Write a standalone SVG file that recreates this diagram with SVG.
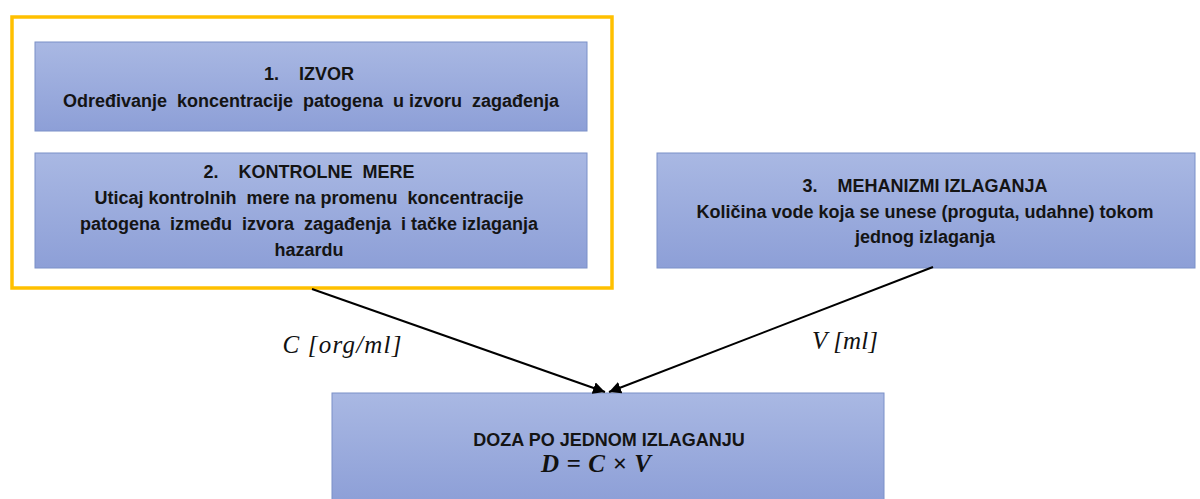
<svg xmlns="http://www.w3.org/2000/svg" width="1200" height="499" viewBox="0 0 1200 499">
<style>
.box{fill:url(#g);stroke:#7B90C8;stroke-width:1}
.t{font-family:"Liberation Sans",Arial,sans-serif;font-weight:bold;font-size:18px;fill:#141414;text-anchor:middle;white-space:pre}
.m{font-family:"Liberation Serif","Times New Roman",serif;font-style:italic;font-size:25px;fill:#111;text-anchor:middle;white-space:pre}
.c{stroke:#000;stroke-width:2;fill:none;marker-end:url(#ah)}
</style>
<defs>
<linearGradient id="g" x1="0" y1="0" x2="0" y2="1">
<stop offset="0" stop-color="#A9B8E3"/>
<stop offset="1" stop-color="#8D9FD7"/>
</linearGradient>
<marker id="ah" viewBox="0 0 10 10" refX="10" refY="5" markerWidth="6" markerHeight="6" orient="auto" markerUnits="strokeWidth">
<path d="M0,0 L10,5 L0,10 z" fill="#000"/>
</marker>
</defs>
<rect x="0" y="0" width="1200" height="499" fill="#fff"/>
<g id="group1">
<rect x="12" y="17" width="600" height="271" fill="none" stroke="#FFC000" stroke-width="3.5"/>
</g>
<g id="node1">
<rect class="box" x="35" y="42" width="552" height="89"/>
<text class="t" x="309" y="80">1.    IZVOR</text>
<text class="t" x="311" y="107">Određivanje  koncentracije  patogena  u izvoru  zagađenja</text>
</g>
<g id="node2">
<rect class="box" x="35" y="153" width="552" height="115"/>
<text class="t" x="309" y="178">2.    KONTROLNE  MERE</text>
<text class="t" x="309" y="204">Uticaj kontrolnih  mere na promenu  koncentracije</text>
<text class="t" x="309" y="230">patogena  između  izvora  zagađenja  i tačke izlaganja</text>
<text class="t" x="309" y="256">hazardu</text>
</g>
<g id="node3">
<rect class="box" x="657" y="153" width="538" height="115"/>
<text class="t" x="925" y="192">3.    MEHANIZMI IZLAGANJA</text>
<text class="t" x="925" y="218">Količina vode koja se unese (proguta, udahne) tokom</text>
<text class="t" x="925" y="243">jednog izlaganja</text>
</g>
<g id="node4">
<rect class="box" x="332" y="393" width="552" height="110"/>
<text class="t" x="609" y="446">DOZA PO JEDNOM IZLAGANJU</text>
<text class="m" x="596" y="472" font-weight="bold" font-size="23" textLength="110" lengthAdjust="spacing">D = C × V</text>
</g>
<g id="connectors">
<line class="c" x1="312" y1="289" x2="605" y2="392"/>
<line class="c" x1="933" y1="267" x2="609" y2="392"/>
<text class="m" x="342" y="353" textLength="119" lengthAdjust="spacing">C [org/ml]</text>
<text class="m" x="845" y="349" textLength="66" lengthAdjust="spacing">V [ml]</text>
</g>
</svg>
